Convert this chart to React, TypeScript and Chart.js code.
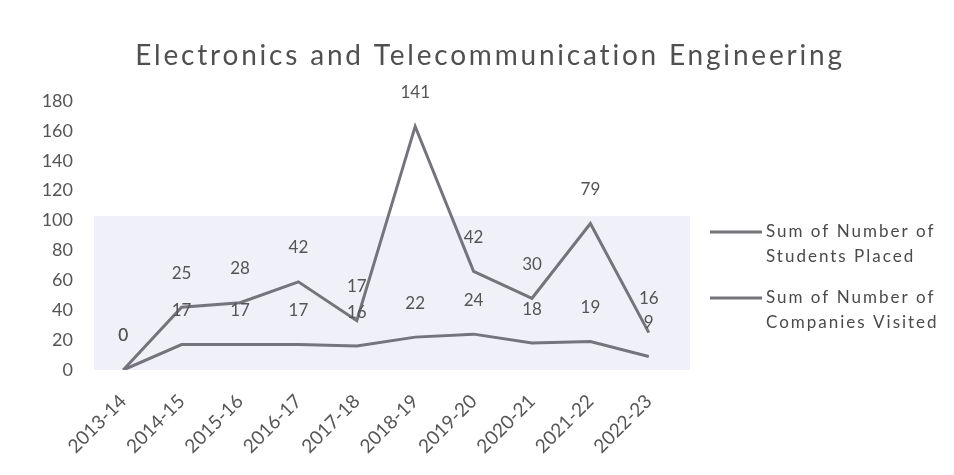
import React, { useEffect, useRef } from "react";
import { Chart, registerables } from "chart.js";

Chart.register(...registerables);

const categories = [
  "2013-14", "2014-15", "2015-16", "2016-17", "2017-18",
  "2018-19", "2019-20", "2020-21", "2021-22", "2022-23",
];
const studentsPlaced = [0, 25, 28, 42, 17, 141, 42, 30, 79, 16];
const companiesVisited = [0, 17, 17, 17, 16, 22, 24, 18, 19, 9];
const yMin = 0;
const yMax = 180;
const yStep = 20;
const titleText = "Electronics and Telecommunication Engineering";
const legendStudents = ["Sum of Number of", "Students Placed"];
const legendCompanies = ["Sum of Number of", "Companies Visited"];

const LINE = "#75747b";
const TEXT = "#555555";
const FONT = "Lato, 'Open Sans', sans-serif";

const decorPlugin = {
  id: "decor",
  beforeDatasetsDraw(chart: any) {
    const { ctx, chartArea, scales } = chart;
    const yTop = scales.y.getPixelForValue(103);
    ctx.save();
    ctx.fillStyle = "rgba(228,228,244,0.55)";
    ctx.fillRect(chartArea.left, yTop, chartArea.right - chartArea.left + 12, chartArea.bottom - yTop);
    ctx.restore();
  },
  afterDatasetsDraw(chart: any) {
    const { ctx, chartArea } = chart;
    ctx.save();
    // data labels
    ctx.font = `17px ${FONT}`;
    ctx.fillStyle = TEXT;
    ctx.textAlign = "center";
    ctx.textBaseline = "middle";
    chart.data.datasets.forEach((ds: any, di: number) => {
      const meta = chart.getDatasetMeta(di);
      meta.data.forEach((pt: any, i: number) => {
        ctx.fillText(String(ds.data[i]), pt.x, pt.y - 34);
      });
    });
    // title
    ctx.font = `28px ${FONT}`;
    (ctx as any).letterSpacing = "2.8px";
    ctx.fillStyle = "#505050";
    ctx.textBaseline = "alphabetic";
    ctx.fillText(titleText, chart.width / 2 + 13, 65);
    // legend
    const entries = [
      { lines: legendStudents, y: 232 },
      { lines: legendCompanies, y: 298 },
    ];
    const lx0 = chartArea.right + 32;
    ctx.font = `17px ${FONT}`;
    (ctx as any).letterSpacing = "2px";
    ctx.textAlign = "left";
    ctx.textBaseline = "middle";
    entries.forEach((e) => {
      ctx.strokeStyle = LINE;
      ctx.lineWidth = 3;
      ctx.beginPath();
      ctx.moveTo(lx0, e.y);
      ctx.lineTo(lx0 + 52, e.y);
      ctx.stroke();
      ctx.fillStyle = "#4a4a4a";
      e.lines.forEach((t, k) => ctx.fillText(t, lx0 + 56, e.y + k * 25));
    });
    ctx.restore();
  },
};

export default function App() {
  const ref = useRef<HTMLCanvasElement | null>(null);
  useEffect(() => {
    document.body.style.margin = "0";
    if (!ref.current) return;
    const chart = new Chart(ref.current, {
      type: "line",
      data: {
        labels: categories,
        datasets: [
          {
            label: "Sum of Number of Companies Visited",
            data: companiesVisited,
            borderColor: LINE,
            borderWidth: 3,
            pointRadius: 0,
            fill: false,
            tension: 0,
          },
          {
            label: "Sum of Number of Students Placed",
            data: studentsPlaced,
            borderColor: LINE,
            borderWidth: 3,
            pointRadius: 0,
            fill: false,
            tension: 0,
          },
        ],
      },
      options: {
        responsive: false,
        animation: false,
        layout: { padding: { top: 101, right: 276, left: 0, bottom: 0 } },
        plugins: {
          legend: { display: false },
          title: { display: false },
          tooltip: { enabled: false },
        },
        scales: {
          x: {
            offset: true,
            grid: { display: false, drawTicks: false },
            border: { display: false },
            ticks: {
              color: TEXT,
              font: { family: FONT, size: 19 },
              maxRotation: 45,
              minRotation: 45,
              padding: 20,
              autoSkip: false,
            },
            afterFit(scale: any) {
              scale.height = 105;
            },
          },
          y: {
            stacked: true,
            min: yMin,
            max: yMax,
            grid: { display: false, drawTicks: false },
            border: { display: false },
            ticks: {
              stepSize: yStep,
              color: TEXT,
              font: { family: FONT, size: 18 },
              padding: 21,
            },
            afterFit(scale: any) {
              scale.width = 94;
            },
          },
        },
      },
      plugins: [decorPlugin],
    } as any);
    return () => chart.destroy();
  }, []);
  return (
    <div style={{ width: 954, height: 475, background: "#fff" }}>
      <canvas ref={ref} width={954} height={475} style={{ display: "block" }} />
    </div>
  );
}
